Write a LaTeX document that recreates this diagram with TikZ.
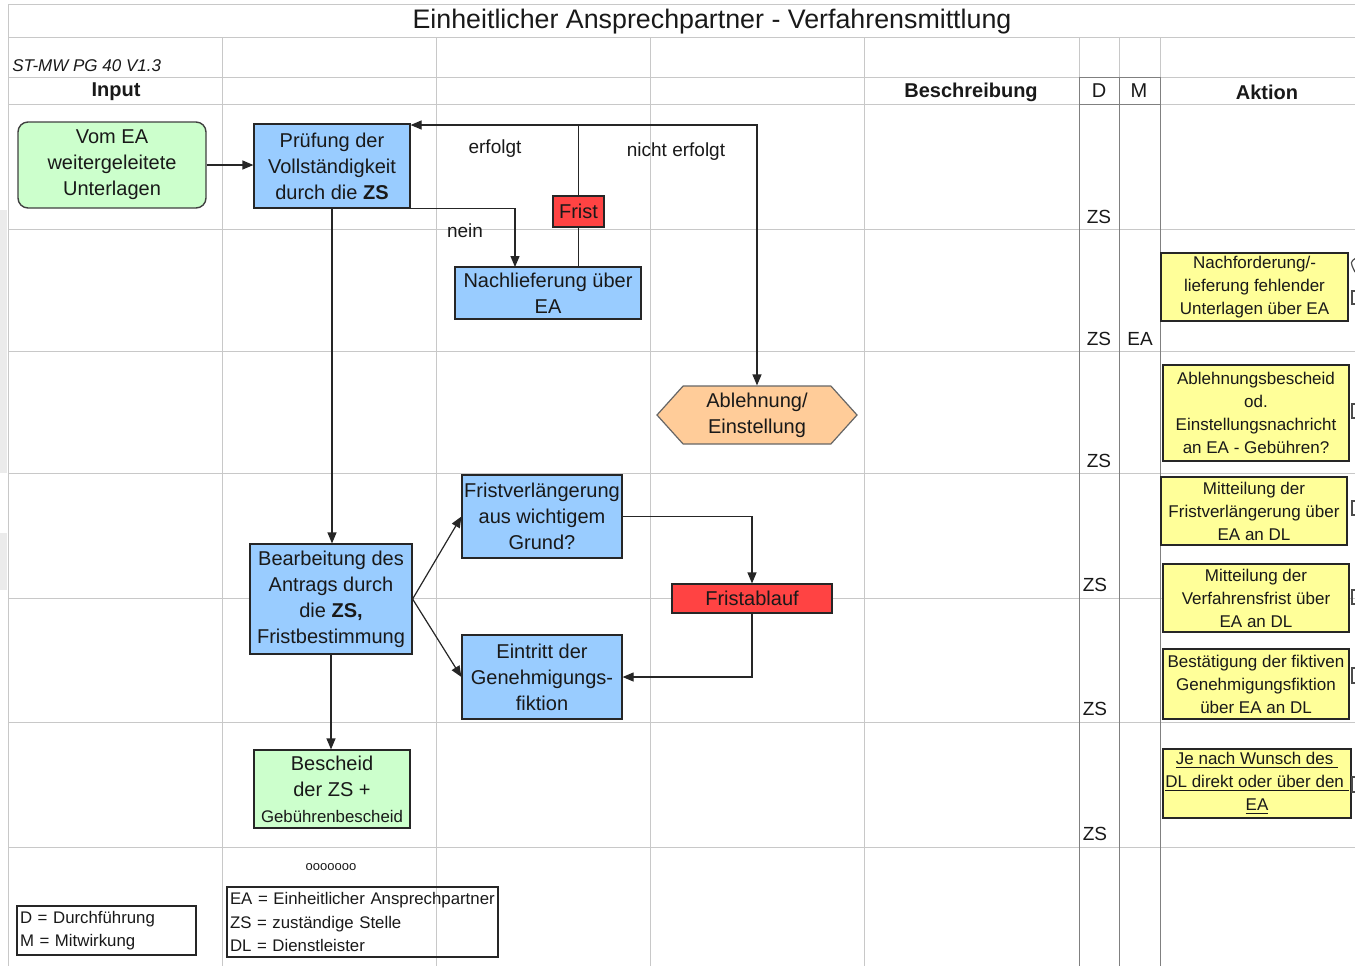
\documentclass[tikz,border=0pt]{standalone}
\usepackage{fontspec}
\setmainfont{Liberation Sans}
\usetikzlibrary{arrows.meta,shapes.symbols}

\definecolor{cellline}{HTML}{C8C8C8}
\definecolor{dmline}{HTML}{808080}
\definecolor{leftstrip}{HTML}{EBEBEB}
\definecolor{procblue}{HTML}{99CCFF}
\definecolor{inputgreen}{HTML}{CCFFCC}
\definecolor{fristred}{HTML}{FF4343}
\definecolor{stoporange}{HTML}{FFCC99}
\definecolor{actyellow}{HTML}{FFFF99}

\begin{document}
\begin{tikzpicture}[x=0.5pt, y=-0.5pt,
    every node/.style={inner sep=0pt, text=black!90},
    boxtext/.style={font=\fontsize{10}{13}\selectfont, align=center},
    procbox/.style={boxtext, draw=black!85, line width=0.6pt, fill=procblue},
    fristbox/.style={boxtext, draw=black!85, line width=0.6pt, fill=fristred},
    actbox/.style={font=\fontsize{8.5}{11.5}\selectfont, align=center, draw=black!85, line width=0.6pt, fill=actyellow},
    legbox/.style={font=\fontsize{8.4}{11.75}\selectfont, align=left, draw=black!85, line width=0.6pt, inner xsep=1.5pt},
    flow/.style={draw=black!85, line width=0.6pt, -{Triangle[length=5.5pt,width=4.5pt]}},
    plainflow/.style={draw=black!85, line width=0.6pt},
    lbl/.style={font=\fontsize{9.5}{12}\selectfont},
    dmtext/.style={font=\fontsize{9.5}{12}\selectfont},
    headtext/.style={font=\fontsize{10}{12}\selectfont\bfseries},
    cutbox/.style={draw=black!70, line width=0.6pt}]
    \useasboundingbox (0,0) rectangle (1355,966);
    \path [fill=leftstrip] (0,210) rectangle (7,473);
    \path [fill=leftstrip] (0,533) rectangle (7,590);

    \draw [cellline, line width=0.5pt] (8,4) -- (1355,4);
    \draw [cellline, line width=0.5pt] (8,37) -- (1355,37);
    \draw [cellline, line width=0.5pt] (8,77) -- (1355,77);
    \draw [cellline, line width=0.5pt] (8,104) -- (1355,104);
    \draw [cellline, line width=0.5pt] (8,229) -- (1355,229);
    \draw [cellline, line width=0.5pt] (8,351) -- (1355,351);
    \draw [cellline, line width=0.5pt] (8,473) -- (1355,473);
    \draw [cellline, line width=0.5pt] (8,598) -- (1355,598);
    \draw [cellline, line width=0.5pt] (8,722) -- (1355,722);
    \draw [cellline, line width=0.5pt] (8,847) -- (1355,847);
    \draw [cellline, line width=0.5pt] (8,4) -- (8,966);
    \draw [cellline, line width=0.5pt] (222,37) -- (222,966);
    \draw [cellline, line width=0.5pt] (436,37) -- (436,966);
    \draw [cellline, line width=0.5pt] (650,37) -- (650,966);
    \draw [cellline, line width=0.5pt] (864,37) -- (864,966);
    \draw [cellline, line width=0.5pt] (1079,37) -- (1079,77);
    \draw [cellline, line width=0.5pt] (1119,37) -- (1119,77);
    \draw [cellline, line width=0.5pt] (1160,37) -- (1160,77);
    \draw [dmline, line width=0.5pt] (1079,77) -- (1079,966);
    \draw [dmline, line width=0.5pt] (1119,77) -- (1119,966);
    \draw [dmline, line width=0.5pt] (1160,77) -- (1160,966);
    \draw [dmline, line width=0.5pt] (1079,77) -- (1160,77);
    \draw [dmline, line width=0.5pt] (1079,104) -- (1160,104);

    \node (title) at (712,22) {\fontsize{13.4}{16}\selectfont Einheitlicher Ansprechpartner - Verfahrensmittlung};
    \node [anchor=west] (version) at (12,66) {\fontsize{8.5}{10}\selectfont\itshape ST-MW PG 40 V1.3};
    \node [headtext] (hinput) at (116,92) {Input};
    \node [headtext] (hbeschr) at (971,92) {Beschreibung};
    \node [dmtext, font=\fontsize{10}{12}\selectfont] (hd) at (1099,91) {D};
    \node [dmtext, font=\fontsize{10}{12}\selectfont] (hm) at (1139,91) {M};
    \node [headtext] (haktion) at (1267,92) {Aktion};

    \node [boxtext, draw=black!75, line width=0.7pt, fill=inputgreen, rounded corners=5pt,
      minimum width=94pt, minimum height=43pt] (vomea) at (112,165) {Vom EA\\weitergeleitete\\Unterlagen};
    \node [procbox, minimum width=78pt, minimum height=42pt] (pruef) at (332,166) {Prüfung der\\Vollständigkeit\\durch die \textbf{ZS}};
    \node [fristbox, minimum width=25.5pt, minimum height=15.5pt] (frist) at (578.5,211.5) {Frist};
    \node [procbox, minimum width=93pt, minimum height=26pt] (nachl) at (548,293) {Nachlieferung über\\EA};
    \node [boxtext, signal, signal to=east and west, signal pointer angle=96, draw=black!60, line width=0.6pt,
      fill=stoporange, minimum width=100pt, minimum height=29pt] (abl) at (757,415) {Ablehnung/\\Einstellung};
    \node [procbox, minimum width=80pt, minimum height=41.5pt] (fristv) at (542,516.5) {Fristverlängerung\\aus wichtigem\\Grund?};
    \node [procbox, minimum width=81pt, minimum height=55pt] (bearb) at (331,599) {Bearbeitung des\\Antrags durch\\die \textbf{ZS,}\\Fristbestimmung};
    \node [fristbox, minimum width=80pt, minimum height=14.5pt] (fristab) at (752,598.5) {Fristablauf};
    \node [procbox, minimum width=80pt, minimum height=42pt] (eintritt) at (542,677) {Eintritt der\\Genehmigungs-\\fiktion};
    \node [boxtext, draw=black!85, line width=0.6pt, fill=inputgreen, minimum width=78pt, minimum height=39pt]
      (bescheid) at (332,789) {Bescheid\\der ZS +\\{\fontsize{8.4}{11}\selectfont Gebührenbescheid}};
    \node (dots) at (331,867) {\fontsize{6.5}{8}\selectfont ooooooo};
    \node [legbox, text width=132.5pt, minimum height=35pt] (legabk) at (362.5,922)
      {EA = Einheitlicher Ansprechpartner\\ZS = zuständige Stelle\\DL = Dienstleister};
    \node [legbox, text width=86.5pt, minimum height=24.5pt] (legdm) at (106.5,930.5)
      {D = Durchführung\\M = Mitwirkung};

    \node [actbox, minimum width=93.5pt, minimum height=34pt] (nachf) at (1254.5,287) {Nachforderung/-\\lieferung fehlender\\Unterlagen über EA};
    \node [actbox, minimum width=93pt, minimum height=48pt] (ablb) at (1256,413) {Ablehnungsbescheid\\od.\\Einstellungsnachricht\\an EA - Gebühren?};
    \node [actbox, minimum width=93pt, minimum height=34pt] (mitfv) at (1254,511) {Mitteilung der\\Fristverlängerung über\\EA an DL};
    \node [actbox, minimum width=93pt, minimum height=34pt] (mitvf) at (1256,598) {Mitteilung der\\Verfahrensfrist über\\EA an DL};
    \node [actbox, minimum width=93pt, minimum height=35pt] (best) at (1256,684) {Bestätigung der fiktiven\\Genehmigungsfiktion\\über EA an DL};
    \node [actbox, minimum width=94pt, minimum height=34.5pt] (wunsch) at (1257,783.5)
      {\underline{Je nach Wunsch des\ }\\\underline{DL direkt oder über den\ }\\\underline{EA}};

    \draw [cutbox] (1357,291) -- (1352,291) -- (1352,304) -- (1357,304);
    \draw [cutbox] (1357,404) -- (1352,404) -- (1352,418) -- (1357,418);
    \draw [cutbox] (1357,501) -- (1352,501) -- (1352,515) -- (1357,515);
    \draw [cutbox] (1357,590) -- (1352,590) -- (1352,604) -- (1357,604);
    \draw [cutbox] (1357,668) -- (1352,668) -- (1352,683) -- (1357,683);
    \draw [cutbox] (1357,777) -- (1352,777) -- (1352,792) -- (1357,792);
    \draw [cutbox] (1356,258) .. controls (1350,262) .. (1355,272);

    \node [dmtext] (d1) at (1099,217) {ZS};
    \node [dmtext] (d2) at (1099,339) {ZS};
    \node [dmtext] (m2) at (1140,339) {EA};
    \node [dmtext] (d3) at (1099,461) {ZS};
    \node [dmtext] (d4) at (1095,585) {ZS};
    \node [dmtext] (d5) at (1095,709) {ZS};
    \node [dmtext] (d6) at (1095,834) {ZS};

    \coordinate (junc) at (578.5,125);
    \coordinate (corner) at (757,125);
    \coordinate (neinend) at (515,267);
    \draw [flow] (vomea.east) -- (vomea.east -| pruef.west);
    \draw [flow] (junc) -- (pruef.east |- junc);
    \draw [flow] (junc) -- (corner) -- (abl.north);
    \draw [plainflow] (frist.south |- nachl.north) -- (frist.south);
    \draw [plainflow] (frist.north) -- (junc);
    \draw [flow] (pruef.south east) -| (neinend);
    \draw [flow] (pruef.south) -- (pruef.south |- bearb.north);
    \draw [flow] (bearb.east) -- (fristv.west);
    \draw [flow] (bearb.east) -- (eintritt.west);
    \draw [flow] (fristv.east) -| (fristab.north);
    \draw [flow] (fristab.south) |- (eintritt.east);
    \draw [flow] (bearb.south) -- (bearb.south |- bescheid.north);

    \node [lbl] (erfolgt) at (495,149) {erfolgt};
    \node [lbl] (nerfolgt) at (676,152) {nicht erfolgt};
    \node [lbl] (nein) at (465,231) {nein};
  \end{tikzpicture}
\end{document}
